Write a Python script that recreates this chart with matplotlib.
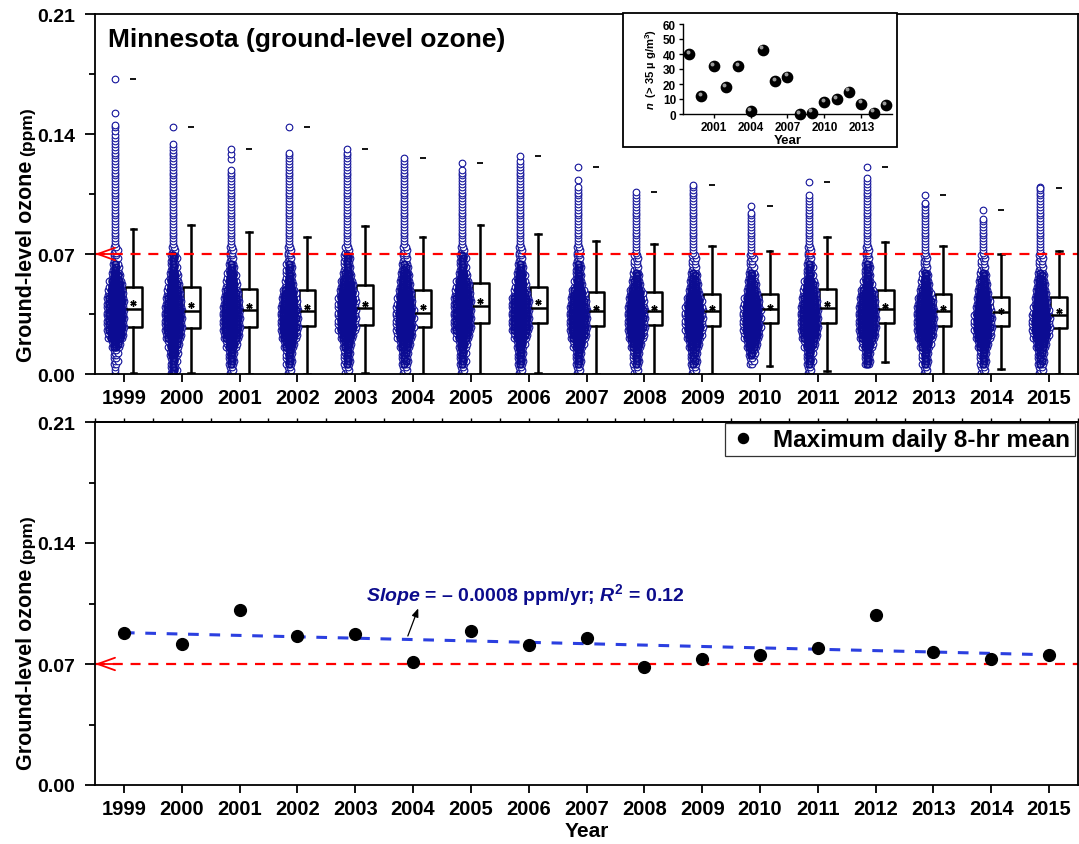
import numpy as np
import matplotlib
matplotlib.use("Agg")
import matplotlib.pyplot as plt
from matplotlib.patches import Rectangle

plt.rcParams['font.family'] = ['Liberation Sans', 'DejaVu Sans']
plt.rcParams['font.weight'] = 'bold'
plt.rcParams['mathtext.fontset'] = 'custom'
plt.rcParams['mathtext.rm'] = 'Liberation Sans:bold'
plt.rcParams['mathtext.it'] = 'Liberation Sans:bold:italic'
plt.rcParams['mathtext.bf'] = 'Liberation Sans:bold'
plt.rcParams['axes.linewidth'] = 1.3

# ---------------- data ----------------
years = list(range(1999, 2016))

# daily ozone box statistics per year (ppm)
box_q1 = [0.0276, 0.0266, 0.0276, 0.0278, 0.0286, 0.0276, 0.0298, 0.0296, 0.0278,
          0.0286, 0.0280, 0.0298, 0.0298, 0.0298, 0.0278, 0.0278, 0.0266]
box_median = [0.0379, 0.0367, 0.0375, 0.0366, 0.0387, 0.0356, 0.0399, 0.0387, 0.0366,
              0.0367, 0.0367, 0.0379, 0.0387, 0.0379, 0.0366, 0.0360, 0.0346]
box_q3 = [0.0509, 0.0509, 0.0498, 0.0488, 0.0519, 0.0488, 0.0529, 0.0507, 0.0476,
          0.0478, 0.0467, 0.0469, 0.0496, 0.0488, 0.0469, 0.0447, 0.0447]
box_mean = [0.0414, 0.0402, 0.0395, 0.0393, 0.0410, 0.0389, 0.0424, 0.0418, 0.0385,
            0.0387, 0.0383, 0.0391, 0.0408, 0.0399, 0.0383, 0.0367, 0.0365]
whisker_low = [0.0005, 0.0005, 0.0, 0.0, 0.0005, 0.0, 0.0, 0.0005, 0.0,
               0.0, 0.0, 0.0049, 0.0016, 0.0068, 0.0, 0.0029, 0.0]
whisker_high = [0.0846, 0.0869, 0.0828, 0.0799, 0.0861, 0.0799, 0.0869, 0.0818, 0.0778,
                0.0758, 0.0749, 0.0718, 0.0797, 0.0768, 0.0749, 0.0700, 0.0716]
daily_max = [0.172, 0.144, 0.131, 0.144, 0.131, 0.126, 0.123, 0.127, 0.121,
             0.106, 0.1105, 0.098, 0.112, 0.121, 0.1046, 0.0957, 0.1085]

# swarm widths: number of marker columns in each 0.005-ppm bin, from 0 upward
swarm_cols = {
    1999: [1, 2, 2, 4, 7, 8, 8, 8, 8, 7, 6, 4, 3, 2, 2, 1, 1, 1, 1, 1, 1, 1, 1, 1, 1, 1, 1, 1],
    2000: [3, 3, 4, 5, 7, 8, 8, 8, 7, 6, 5, 4, 3, 3, 2, 1, 1, 1, 1, 1, 1, 1, 1, 1, 1, 1, 1],
    2001: [2, 3, 3, 5, 7, 8, 8, 8, 7, 6, 5, 4, 3, 2, 2, 1, 1, 1, 1, 1, 1, 1, 1, 1],
    2002: [2, 3, 3, 5, 7, 8, 8, 8, 7, 6, 4, 3, 3, 2, 2, 1, 1, 1, 1, 1, 1, 1, 1, 1, 1, 1],
    2003: [2, 3, 3, 4, 6, 8, 8, 8, 8, 7, 6, 4, 3, 3, 2, 1, 1, 1, 1, 1, 1, 1, 1, 1, 1, 1],
    2004: [2, 3, 3, 5, 7, 8, 8, 8, 7, 6, 5, 4, 3, 2, 2, 1, 1, 1, 1, 1, 1, 1, 1, 1, 1],
    2005: [2, 3, 3, 4, 6, 8, 8, 8, 8, 7, 6, 4, 3, 3, 2, 1, 1, 1, 1, 1, 1, 1, 1, 1],
    2006: [2, 3, 3, 4, 6, 8, 8, 8, 8, 6, 5, 4, 3, 2, 2, 1, 1, 1, 1, 1, 1, 1, 1, 1, 1],
    2007: [2, 3, 3, 5, 7, 8, 8, 8, 7, 6, 4, 3, 3, 2, 2, 1, 1, 1, 1, 1, 1, 1],
    2008: [2, 3, 3, 5, 7, 8, 8, 8, 7, 6, 4, 3, 2, 2, 1, 1, 1, 1, 1, 1, 1],
    2009: [2, 3, 3, 5, 7, 8, 8, 8, 7, 5, 4, 3, 2, 2, 1, 1, 1, 1, 1, 1, 1, 1],
    2010: [0, 2, 3, 5, 7, 8, 8, 8, 7, 5, 4, 3, 2, 2, 1, 1, 1, 1, 1],
    2011: [2, 3, 3, 5, 7, 8, 8, 8, 7, 6, 5, 3, 3, 2, 2, 1, 1, 1, 1, 1, 1],
    2012: [0, 3, 3, 5, 7, 8, 8, 8, 7, 6, 4, 3, 3, 2, 2, 1, 1, 1, 1, 1, 1, 1, 1],
    2013: [2, 3, 3, 5, 7, 8, 8, 8, 7, 5, 4, 3, 2, 2, 1, 1, 1, 1, 1, 1],
    2014: [2, 3, 3, 5, 7, 8, 8, 7, 6, 5, 4, 3, 2, 2, 1, 1, 1, 1],
    2015: [2, 3, 3, 5, 7, 8, 8, 7, 6, 5, 4, 3, 2, 2, 1, 1, 1, 1, 1, 1, 1, 1],
}
# isolated high daily values above the continuous column (ppm)
swarm_high = {
    1999: [0.142, 0.144, 0.145, 0.152, 0.172], 2000: [0.144],
    2001: [0.1254, 0.1283, 0.131], 2002: [0.144], 2003: [0.131], 2004: [0.126],
    2005: [0.123], 2006: [0.127], 2007: [0.1134, 0.121], 2008: [0.106],
    2009: [0.1105], 2010: [0.098], 2011: [0.112], 2012: [0.121],
    2013: [0.100, 0.1046], 2014: [0.0904, 0.0957], 2015: [0.1085],
}

# maximum daily 8-hr mean (ppm)
max_8hr = [0.0881, 0.0813, 0.1011, 0.0862, 0.0875, 0.0712, 0.0891, 0.0809, 0.0852,
           0.0683, 0.0729, 0.0751, 0.0790, 0.0984, 0.0770, 0.0731, 0.0751]
trend_slope = -0.0008
r_squared = 0.12

# number of days above 35 ug/m3
exceed_n = [40, 12, 32, 18, 32, 2, 43, 22, 25, 0, 1, 8, 10, 15, 7, 1, 6]
inset_ticks = [2001, 2004, 2007, 2010, 2013]

standard = 0.07
yticks = [0.00, 0.07, 0.14, 0.21]

# ---------------- figure ----------------
W, H = 1079, 845
fig = plt.figure(figsize=(W / 100, H / 100), dpi=100)


def fig_rect(x0, y0, x1, y1):
    return [x0 / W, 1 - y1 / H, (x1 - x0) / W, (y1 - y0) / H]


ax1 = fig.add_axes(fig_rect(95, 15, 1078, 375))
ax2 = fig.add_axes(fig_rect(95, 423, 1078, 786))

blue_mk = '#12129a'
swarm_dx = 0.040
swarm_shift = -0.15
box_shift = 0.165
rows_per_bin = 3
bin_w = 0.005


def style_axis(ax):
    ax.set_xlim(1998.5, 2015.5)
    ax.set_ylim(0, 0.21)
    ax.set_yticks(yticks)
    ax.set_yticklabels([f'{v:.2f}' for v in yticks])
    ax.set_yticks([0.035, 0.105, 0.175], minor=True)
    ax.set_xticks(years)
    ax.set_xticklabels([str(y) for y in years])
    ax.tick_params(axis='y', which='major', direction='out', length=7.5, width=1.3,
                   labelsize=14, pad=7)
    ax.tick_params(axis='x', which='major', direction='out', length=6, width=1.3,
                   labelsize=14.5, pad=4)
    ax.tick_params(axis='y', which='minor', direction='out', length=4.5, width=1.3)
    ax.tick_params(axis='x', which='minor', bottom=False)
    for lab in ax.get_xticklabels() + ax.get_yticklabels():
        lab.set_fontweight('bold')
    ax.axhline(standard, color='#ff0000', lw=1.6, ls=(0, (4.5, 3.5)), zorder=2.5)
    ax.annotate('', xy=(1998.5, standard), xytext=(1998.85, standard),
                arrowprops=dict(arrowstyle='->,head_length=1.25,head_width=0.45',
                                color='#ff0000', lw=1.3, shrinkA=0, shrinkB=0),
                annotation_clip=False)


style_axis(ax1)
style_axis(ax2)

# ----- top panel: daily distributions -----
for yr in years:
    xs, ys = [], []        # every marker
    ex, ey = [], []        # outermost marker of each row
    ix, iy = [], []        # interior markers of each row
    for k, n in enumerate(swarm_cols[yr]):
        for r in range(rows_per_bin):
            yv = (k + (r + 0.5) / rows_per_bin) * bin_w
            stag = 0.5 * swarm_dx if (r % 2 and n > 1) else 0.0
            for c in range(n):
                xv = yr + swarm_shift + (c - (n - 1) / 2) * swarm_dx + stag
                xs.append(xv)
                ys.append(yv)
                if c == 0 or c == n - 1:
                    ex.append(xv)
                    ey.append(yv)
                else:
                    ix.append(xv)
                    iy.append(yv)
    for v in swarm_high[yr]:
        ex.append(yr + swarm_shift)
        ey.append(v)
    ax1.plot(xs, ys, ls='none', marker='o', ms=4.8, mfc='white', mec='none', zorder=2)
    ax1.plot(ex, ey, ls='none', marker='o', ms=4.8, mfc='white', mec=blue_mk,
             mew=0.8, zorder=2.1)
    ax1.plot(ix, iy, ls='none', marker='o', ms=4.6, mfc='none', mec='#0c0c92',
             mew=1.5, zorder=2.2)

stats = []
for i, yr in enumerate(years):
    stats.append(dict(med=box_median[i], q1=box_q1[i], q3=box_q3[i],
                      whislo=whisker_low[i], whishi=whisker_high[i],
                      mean=box_mean[i], fliers=[]))
ax1.bxp(stats, positions=[y + box_shift for y in years], widths=0.29,
        showmeans=True, showfliers=False, capwidths=0.1, manage_ticks=False,
        boxprops=dict(color='black', lw=1.8),
        medianprops=dict(color='black', lw=1.8),
        whiskerprops=dict(color='black', lw=1.8),
        capprops=dict(color='black', lw=1.8),
        meanprops=dict(marker=(6, 2, 0), markersize=4.5, markeredgecolor='black',
                       markerfacecolor='black', markeredgewidth=1.0))
ax1.plot([y + box_shift for y in years], daily_max, ls='none', marker='_', ms=4,
         mew=1.3, color='black', zorder=3)

ax1.text(0.013, 0.93, 'Minnesota (ground-level ozone)', transform=ax1.transAxes,
         fontsize=19, fontweight='bold', ha='left', va='center')

# ----- bottom panel: maximum daily 8-hr mean -----
ax2.plot(years, max_8hr, ls='none', marker='o', ms=8.5, color='black', zorder=4,
         label='Maximum daily 8-hr mean')
yr_arr = np.array(years, dtype=float)
intercept = np.mean(max_8hr) - trend_slope * yr_arr.mean()
ax2.plot(yr_arr, intercept + trend_slope * yr_arr, color='#2b3fe0', lw=2.2,
         ls=(0, (3.5, 3.5)), zorder=3)
ax2.text(2003.19, 0.1102,
         r'$\mathit{Slope}$ = – 0.0008 ppm/yr; $\mathit{R}^{2}$ = 0.12',
         color='#0c0c8c', fontsize=14, fontweight='bold', ha='left', va='center')
ax2.annotate('', xy=(2004.09, 0.1022), xytext=(2003.91, 0.0862),
             arrowprops=dict(arrowstyle='-|>,head_length=0.5,head_width=0.2',
                             color='black', lw=0.9, shrinkA=0, shrinkB=0))
leg = ax2.legend(loc='upper right', fontsize=17.5, frameon=True, fancybox=False,
                 borderpad=0.2, handletextpad=0.7, handlelength=1.1,
                 borderaxespad=0.05, markerscale=0.85, bbox_to_anchor=(0.9985, 1.0))
leg.get_frame().set_edgecolor('black')
leg.get_frame().set_linewidth(0.9)
for t in leg.get_texts():
    t.set_fontweight('bold')
ax2.set_xlabel('Year', fontsize=15, fontweight='bold', labelpad=2)
top_ax = ax2.secondary_xaxis('top')
top_ax.set_xticks(np.arange(1998.5, 2015.51, 0.5))
top_ax.tick_params(direction='out', length=3, width=1.0, labeltop=False)

# ----- y-axis titles -----
for y_start in (362, 770):
    t1 = fig.text(32 / W, 1 - y_start / H, 'Ground-level ozone', rotation=90,
                  rotation_mode='anchor', ha='left', va='baseline', fontsize=15.5,
                  fontweight='bold')
    fig.canvas.draw()
    bb = t1.get_window_extent()
    fig.text(32 / W, (bb.y1 + 5) / H, '(ppm)', rotation=90, rotation_mode='anchor',
             ha='left', va='baseline', fontsize=12.5, fontweight='bold')

# ----- inset: exceedance counts -----
fig.add_artist(Rectangle((623 / W, 1 - 148 / H), (897 - 623) / W, (148 - 14) / H,
                         transform=fig.transFigure, fill=True, facecolor='white',
                         edgecolor='black', lw=1.3, zorder=5))
axi = fig.add_axes(fig_rect(683, 25, 892, 115), zorder=6)
axi.patch.set_alpha(0)
axi.scatter(years, exceed_n, s=55, color='black', zorder=3, clip_on=False)
axi.scatter(np.array(years) - 0.13, np.array(exceed_n) + 1.6, s=8, color='#9a9a9a',
            zorder=4, clip_on=False, linewidths=0)
axi.set_xlim(1998.5, 2015.5)
axi.set_ylim(0, 60)
axi.set_yticks([0, 10, 20, 30, 40, 50, 60])
axi.set_xticks(inset_ticks)
axi.spines['top'].set_visible(False)
axi.spines['right'].set_visible(False)
axi.spines['left'].set_linewidth(1.0)
axi.spines['bottom'].set_linewidth(1.0)
axi.tick_params(direction='out', length=3, width=1.0, labelsize=8.5, pad=2)
for lab in axi.get_xticklabels() + axi.get_yticklabels():
    lab.set_fontweight('bold')
axi.set_xlabel('Year', fontsize=9.5, fontweight='bold', labelpad=1)
axi.set_ylabel(r'$\mathit{n}$  (> 35 µ g/m$^{3}$)', fontsize=8, fontweight='bold',
               labelpad=3)

fig.savefig('out.png', dpi=100)
